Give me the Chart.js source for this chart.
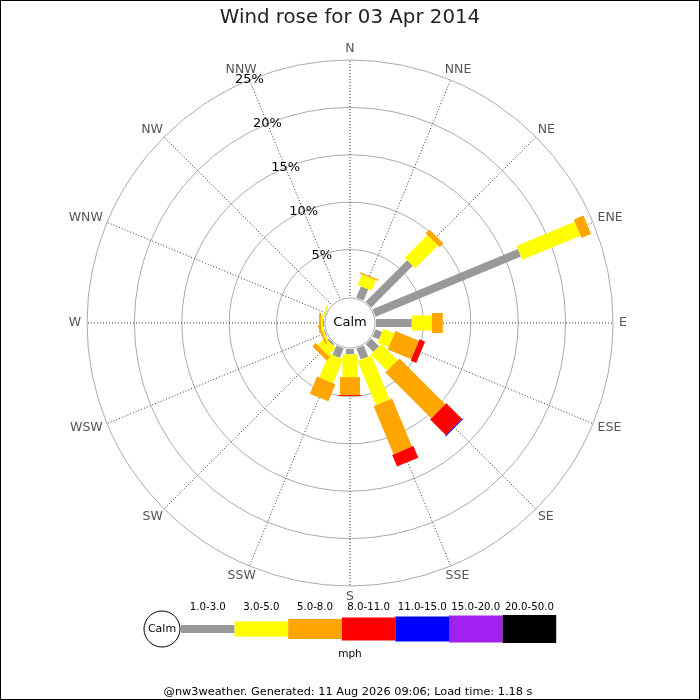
<!DOCTYPE html>
<html lang="en">
<head>
    <meta charset="UTF-8">
    <title>Wind rose for 03 Apr 2014</title>
    <script src="https://cdn.jsdelivr.net/npm/chart.js@4.4.1/dist/chart.umd.min.js"></script>
    <style>
        body {
            margin: 0;
            padding: 0;
            background: #fff;
        }
        #wrap {
            width: 700px;
            height: 700px;
        }
    </style>
</head>
<body>
    <div id="wrap"><canvas id="rose" width="700" height="700"></canvas></div>

    <script>
        // compass points, clockwise from north
        const directions = ['N', 'NNE', 'NE', 'ENE', 'E', 'ESE', 'SE', 'SSE',
                            'S', 'SSW', 'SW', 'WSW', 'W', 'WNW', 'NW', 'NNW'];
        const speedBins = ['1.0-3.0', '3.0-5.0', '5.0-8.0', '8.0-11.0', '11.0-15.0', '15.0-20.0', '20.0-50.0'];
        const tickValues = [5, 10, 15, 20, 25];

        // % of time per direction for each speed bin (mph)
        const speed1to3   = [0, 1.27, 6.2, 16.6, 3.77, 0.74, 1.16, 1.25, 0.56, 1.06, 0.2, 0.1, 0.1, 0.05, 0, 0];
        const speed3to5   = [0, 1.2, 3.4, 6.65, 2.11, 1.27, 2.43, 5.06, 2.4, 2.75, 1.1, 0.2, 0.2, 0.15, 0, 0];
        const speed5to8   = [0, 0.15, 0.55, 1.1, 1.16, 2.68, 6.83, 5.5, 1.9, 1.95, 0.5, 0.2, 0.2, 0, 0, 0];
        const speed8to11  = [0, 0, 0, 0, 0, 0.63, 2.35, 1.34, 0.1, 0, 0, 0, 0, 0, 0, 0];
        const speed11to15 = [0, 0, 0, 0, 0, 0, 0.1, 0, 0, 0, 0, 0, 0, 0, 0, 0];
        const speed15to20 = [0, 0, 0, 0, 0, 0, 0, 0, 0, 0, 0, 0, 0, 0, 0, 0];
        const speed20to50 = [0, 0, 0, 0, 0, 0, 0, 0, 0, 0, 0, 0, 0, 0, 0, 0];

        const binColors = ['#999999', '#ffff00', '#ffa500', '#ff0000', '#0000ff', '#a020f0', '#000000'];
        const legWidths = [8, 15, 20, 23, 25, 27, 28];
        const FONT = "'DejaVu Sans', Verdana, sans-serif";

        const series = [speed1to3, speed3to5, speed5to8, speed8to11, speed11to15, speed15to20, speed20to50];

        const rosePlugin = {
            id: 'rose',
            afterDatasetsDraw(chart) {
                const ctx = chart.ctx;
                const scale = chart.scales.r;
                const cx = scale.xCenter, cy = scale.yCenter;

                // stacked legs along each direction
                directions.forEach((d, i) => {
                    let cum = 0;
                    const ang = scale.getIndexAngle(i) - Math.PI / 2;
                    chart.data.datasets.forEach((ds, k) => {
                        const v = ds.data[i];
                        if (!v) return;
                        const r0 = scale.getDistanceFromCenterForValue(cum);
                        cum += v;
                        const r1 = scale.getDistanceFromCenterForValue(cum);
                        ctx.save();
                        ctx.translate(cx, cy);
                        ctx.rotate(ang);
                        ctx.fillStyle = binColors[k];
                        ctx.fillRect(r0, -legWidths[k] / 2, r1 - r0, legWidths[k]);
                        ctx.restore();
                    });
                });

                // calm circle
                const calmR = scale.getDistanceFromCenterForValue(0) - 1;
                ctx.save();
                ctx.beginPath();
                ctx.arc(cx, cy, calmR, 0, Math.PI * 2);
                ctx.fillStyle = '#fff';
                ctx.fill();
                ctx.strokeStyle = '#aaaaaa';
                ctx.lineWidth = 1;
                ctx.stroke();
                ctx.fillStyle = '#000';
                ctx.font = '13px ' + FONT;
                ctx.textAlign = 'center';
                ctx.textBaseline = 'middle';
                ctx.fillText('Calm', cx, cy);

                // percentage labels along NNW
                tickValues.forEach(v => {
                    const p = scale.getPointPosition(15, scale.getDistanceFromCenterForValue(v));
                    ctx.fillText(v + '%', p.x, p.y);
                });

                // compass labels, pushed out past the end of each spoke
                ctx.fillStyle = '#555555';
                ctx.font = '12.5px ' + FONT;
                directions.forEach((d, i) => {
                    const a = scale.getIndexAngle(i);
                    const tip = scale.getPointPosition(i, scale.drawingArea);
                    const w = ctx.measureText(d).width;
                    const x = tip.x + Math.sin(a) * (6 + w / 2);
                    const y = tip.y - Math.cos(a) * 11;
                    ctx.fillText(d, x, y);
                });
                ctx.restore();
            },
            afterDraw(chart) {
                const ctx = chart.ctx;
                ctx.save();
                ctx.textAlign = 'center';
                ctx.textBaseline = 'middle';

                // legend
                const y = 629;
                ctx.beginPath();
                ctx.arc(162, y, 18, 0, Math.PI * 2);
                ctx.fillStyle = '#fff';
                ctx.fill();
                ctx.strokeStyle = '#000';
                ctx.lineWidth = 1;
                ctx.stroke();
                ctx.fillStyle = '#000';
                ctx.font = '11px ' + FONT;
                ctx.fillText('Calm', 162, y);

                ctx.font = '10.2px ' + FONT;
                const x0 = 181, w = 53.6;
                speedBins.forEach((label, k) => {
                    const x = x0 + k * w;
                    ctx.fillStyle = binColors[k];
                    ctx.fillRect(x, y - legWidths[k] / 2, w, legWidths[k]);
                    ctx.fillStyle = '#000';
                    ctx.fillText(label, x + w / 2, 607);
                });
                ctx.font = '10.5px ' + FONT;
                ctx.fillText('mph', 350, 654);

                // footer
                ctx.font = '11.3px ' + FONT;
                ctx.fillText('@nw3weather. Generated: 11 Aug 2026 09:06; Load time: 1.18 s', 348, 692);

                // frame
                ctx.strokeStyle = '#000';
                ctx.lineWidth = 1;
                ctx.strokeRect(0.5, 0.5, chart.width - 1, chart.height - 1);
                ctx.restore();
            }
        };

        const ctx = document.getElementById('rose').getContext('2d');
        new Chart(ctx, {
            type: 'radar',
            data: {
                labels: directions,
                datasets: series.map((data, k) => ({
                    label: speedBins[k],
                    data: data,
                    showLine: false,
                    fill: false,
                    borderWidth: 0,
                    pointRadius: 0,
                    pointHoverRadius: 0
                }))
            },
            options: {
                responsive: false,
                animation: false,
                layout: {
                    padding: { left: 87, right: 87, top: 0, bottom: 114 }
                },
                plugins: {
                    legend: { display: false },
                    tooltip: { enabled: false },
                    title: {
                        display: true,
                        text: 'Wind rose for 03 Apr 2014',
                        color: '#222',
                        font: { family: FONT, size: 19.8, weight: 'normal' },
                        padding: { top: 6, bottom: 30.24 }
                    }
                },
                scales: {
                    r: {
                        min: -2.75,
                        max: 25,
                        startAngle: 0,
                        afterBuildTicks: s => { s.ticks = tickValues.map(v => ({ value: v })); },
                        ticks: { display: false },
                        grid: { circular: true, color: '#aaaaaa', lineWidth: 1 },
                        angleLines: { color: '#333333', lineWidth: 1, borderDash: [1, 2] },
                        pointLabels: { display: false }
                    }
                }
            },
            plugins: [rosePlugin]
        });
    </script>
</body>
</html>
